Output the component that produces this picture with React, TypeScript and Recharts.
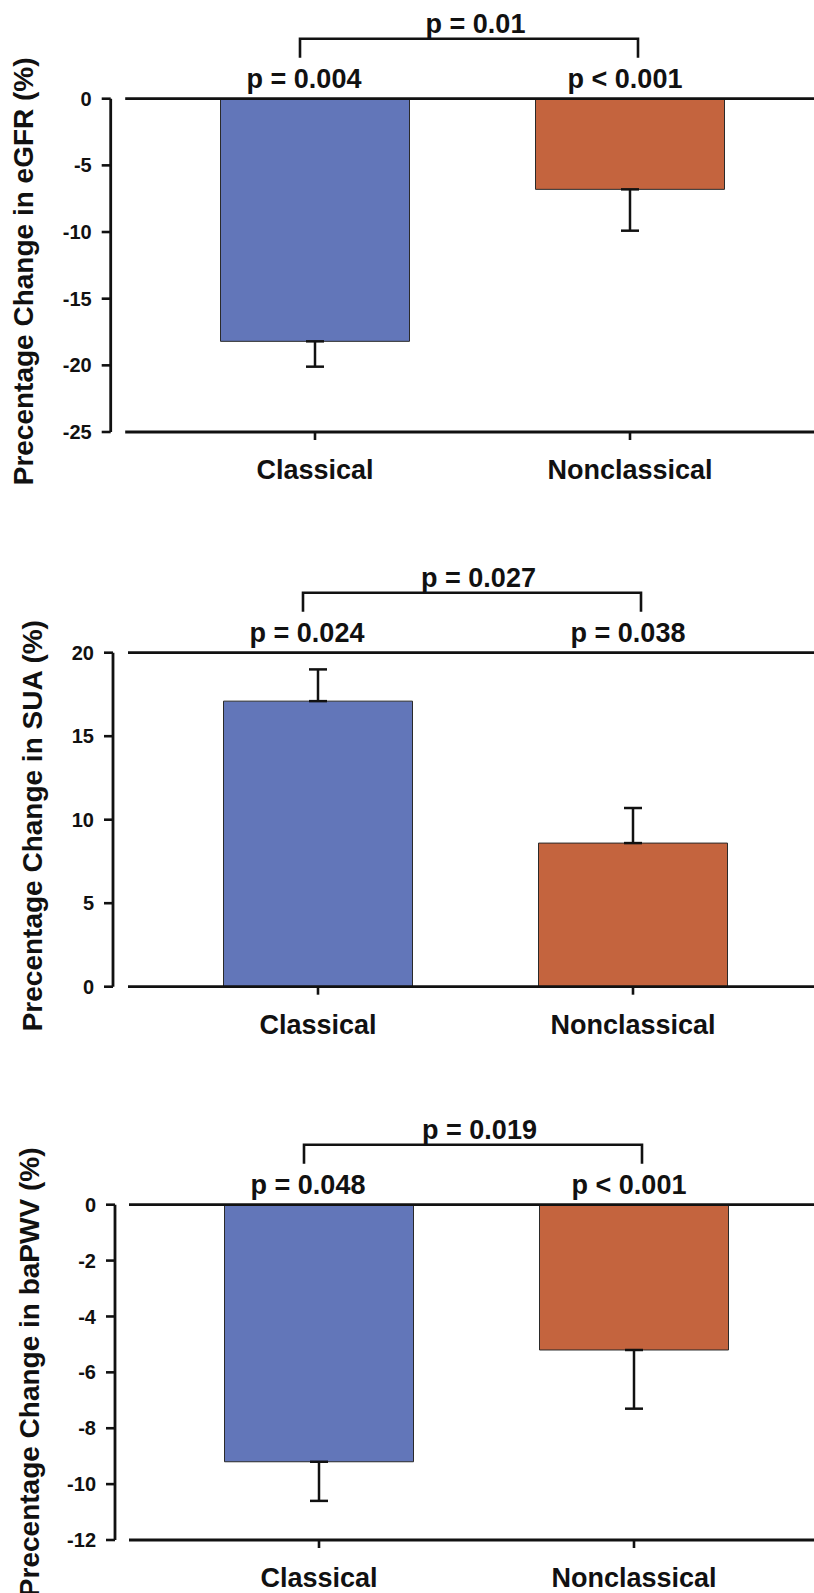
import { Bar, BarChart, Cell, ErrorBar, ReferenceLine, XAxis, YAxis } from "recharts";

const categories = ["Classical", "Nonclassical"];
const barColors = ["#6276b9", "#c4643e"];

const egfrValues = [-18.2, -6.8];
const egfrErrors = [1.9, 3.1];
const egfrTicks = [0, -5, -10, -15, -20, -25];
const egfrPValues = ["p = 0.004", "p < 0.001"];
const egfrBetween = "p = 0.01";

const suaValues = [17.1, 8.6];
const suaErrors = [1.9, 2.1];
const suaTicks = [0, 5, 10, 15, 20];
const suaPValues = ["p = 0.024", "p = 0.038"];
const suaBetween = "p = 0.027";

const bapwvValues = [-9.2, -5.2];
const bapwvErrors = [1.4, 2.1];
const bapwvTicks = [0, -2, -4, -6, -8, -10, -12];
const bapwvPValues = ["p = 0.048", "p < 0.001"];
const bapwvBetween = "p = 0.019";

const ink = "#111";
const textStyle = { fill: ink, fontSize: 27, fontWeight: 700 };

// frame line that starts a little to the right of the y axis
const frameLine = (gap: number) => (props: any) => (
  <line x1={props.x1 + gap} y1={props.y1} x2={props.x2} y2={props.y2} stroke={ink} strokeWidth={2.8} />
);

const annotation = (pLabels: string[], between: string) => (props: any) => {
  const { x1, x2, y1 } = props;
  const left = x1 - 15;
  const right = x2 + 8;
  return (
    <g>
      <path
        d={`M${left},${y1 - 41}V${y1 - 60}H${right}V${y1 - 41}`}
        fill="none"
        stroke={ink}
        strokeWidth={2.6}
      />
      <text x={(x1 + x2) / 2 + 3} y={y1 - 66} textAnchor="middle" {...textStyle}>
        {between}
      </text>
      <text x={x1 - 11} y={y1 - 11} textAnchor="middle" {...textStyle}>
        {pLabels[0]}
      </text>
      <text x={x2 - 5} y={y1 - 11} textAnchor="middle" {...textStyle}>
        {pLabels[1]}
      </text>
    </g>
  );
};

type PanelProps = {
  top: number;
  height: number;
  marginTop: number;
  marginBottom: number;
  xAxisHeight: number;
  axisX: number;
  firstCenter: number;
  lineGap: number;
  values: number[];
  errors: number[];
  ticks: number[];
  pLabels: string[];
  between: string;
  title: string;
  titleX: number;
  titleShift: number;
};

const band = 315;
const chartWidth = 830;

function Panel(p: PanelProps) {
  const rows = categories.map((name, i) => ({
    name,
    value: p.values[i],
    err: p.values[i] < 0 ? [p.errors[i], 0] : [0, p.errors[i]],
  }));
  const min = Math.min(...p.ticks);
  const max = Math.max(...p.ticks);
  const padLeft = p.firstCenter - band / 2 - p.axisX;
  const padRight = chartWidth - (p.firstCenter + 1.5 * band);

  return (
    <div style={{ position: "absolute", left: 0, top: p.top }}>
      <BarChart
        width={chartWidth}
        height={p.height}
        data={rows}
        margin={{ top: p.marginTop, right: 0, bottom: p.marginBottom, left: 0 }}
      >
        <XAxis
          dataKey="name"
          interval={0}
          padding={{ left: padLeft, right: padRight }}
          axisLine={false}
          tickLine={{ stroke: ink, strokeWidth: 2.6 }}
          tickSize={8}
          tickMargin={20}
          height={p.xAxisHeight}
          tick={textStyle}
        />
        <YAxis
          type="number"
          domain={[min, max]}
          ticks={p.ticks}
          allowDataOverflow
          width={p.axisX}
          axisLine={{ stroke: ink, strokeWidth: 2.8 }}
          tickLine={{ stroke: ink, strokeWidth: 2.6 }}
          tickSize={9}
          tickMargin={10}
          tick={{ fill: ink, fontSize: 20, fontWeight: 700 }}
          label={(lp: any) => {
            const vb = lp.viewBox;
            const cy = vb.y + vb.height / 2 + p.titleShift;
            return (
              <text
                x={p.titleX}
                y={cy}
                transform={`rotate(-90, ${p.titleX}, ${cy})`}
                textAnchor="middle"
                dominantBaseline="central"
                fill={ink}
                fontSize={28}
                fontWeight={700}
              >
                {p.title}
              </text>
            );
          }}
        />
        <ReferenceLine y={max} shape={frameLine(p.lineGap)} />
        <ReferenceLine y={min} shape={frameLine(p.lineGap)} />
        <Bar dataKey="value" barSize={189} stroke="#2a2a2a" strokeWidth={1} isAnimationActive={false}>
          {rows.map((r, i) => (
            <Cell key={r.name} fill={barColors[i]} />
          ))}
          <ErrorBar dataKey="err" width={9} stroke={ink} strokeWidth={2.5} direction="y" isAnimationActive={false} />
        </Bar>
        <ReferenceLine
          segment={[
            { x: categories[0], y: max },
            { x: categories[1], y: max },
          ]}
          ifOverflow="visible"
          shape={annotation(p.pLabels, p.between)}
        />
      </BarChart>
    </div>
  );
}

export default function App() {
  return (
    <div
      style={{
        position: "absolute",
        left: 0,
        top: 0,
        width: 814,
        height: 1593,
        overflow: "hidden",
        background: "#fff",
        fontFamily: "'Liberation Sans', Arial, sans-serif",
      }}
    >
      <Panel
        top={0}
        height={520}
        marginTop={98.7}
        marginBottom={28}
        xAxisHeight={60}
        axisX={110.7}
        firstCenter={315}
        lineGap={14.5}
        values={egfrValues}
        errors={egfrErrors}
        ticks={egfrTicks}
        pLabels={egfrPValues}
        between={egfrBetween}
        title="Precentage Change in eGFR (%)"
        titleX={24}
        titleShift={6}
      />
      <Panel
        top={540}
        height={520}
        marginTop={112.7}
        marginBottom={13.3}
        xAxisHeight={60}
        axisX={113}
        firstCenter={318}
        lineGap={15}
        values={suaValues}
        errors={suaErrors}
        ticks={suaTicks}
        pLabels={suaPValues}
        between={suaBetween}
        title="Precentage Change in SUA (%)"
        titleX={33}
        titleShift={6}
      />
      <Panel
        top={1060}
        height={533}
        marginTop={144.7}
        marginBottom={0}
        xAxisHeight={53}
        axisX={115}
        firstCenter={319}
        lineGap={14}
        values={bapwvValues}
        errors={bapwvErrors}
        ticks={bapwvTicks}
        pLabels={bapwvPValues}
        between={bapwvBetween}
        title="Precentage Change in baPWV (%)"
        titleX={30}
        titleShift={0}
      />
    </div>
  );
}
